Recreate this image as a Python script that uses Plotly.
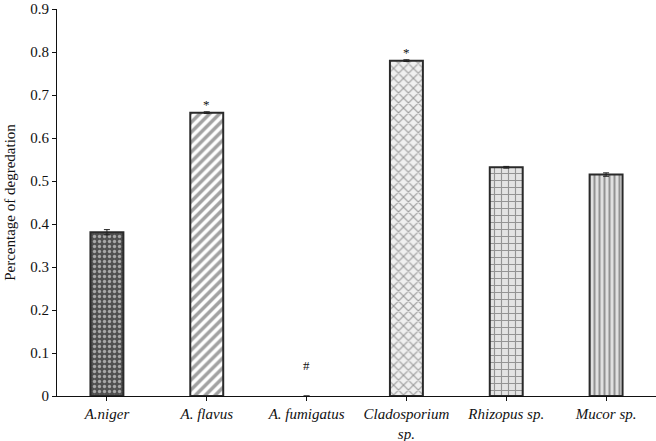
import plotly.graph_objects as go

categories = ["<i>A.niger</i>", "<i>A. flavus</i>", "<i>A. fumigatus</i>",
              "<i>Cladosporium</i><br><i>sp.</i>", "<i>Rhizopus sp.</i>", "<i>Mucor sp.</i>"]
values = [0.381, 0.659, 0.0, 0.780, 0.532, 0.515]
errors = [0.006, 0.002, None, 0.002, 0.002, 0.004]
sig_marks = ["", "*", "#", "*", "", ""]
sig_y = [None, 0.677, 0.07, 0.80, None, None]
y_ticks = [0, 0.1, 0.2, 0.3, 0.4, 0.5, 0.6, 0.7, 0.8, 0.9]
y_tick_labels = ["0", "0.1", "0.2", "0.3", "0.4", "0.5", "0.6", "0.7", "0.8", "0.9"]

shapes = [".", "/", "", "x", "+", "|"]
bgs = ["#505050", "#ffffff", "#ffffff", "#f0f0f0", "#e4e4e4", "#e0e0e0"]
fgs = ["#d8d8d8", "#000000", "#111111", "#333333", "#1a1a1a", "#333333"]
sizes = [5, 7, 8, 7, 7, 5]
solid = [0.35, 0.5, 0.3, 0.3, 0.3, 0.4]
line_w = [2, 2, 0, 2, 2, 2]
opac = [1, 1, 0, 1, 1, 1]

fig = go.Figure()
fig.add_trace(go.Bar(
    x=list(range(len(values))), y=values, width=0.33,
    marker=dict(color=bgs, opacity=opac, line=dict(color="#2a2a2a", width=line_w),
                pattern=dict(shape=shapes, bgcolor=bgs, fgcolor=fgs, size=sizes, solidity=solid)),
    error_y=dict(type="data", array=errors, visible=True, color="#222222", thickness=1, width=3),
    showlegend=False,
))

for i, (m, yy) in enumerate(zip(sig_marks, sig_y)):
    if m:
        fig.add_annotation(x=i, y=yy, text=m, showarrow=False,
                           font=dict(family="Liberation Serif", size=13, color="#111"))

fig.update_layout(
    width=656, height=441,
    margin=dict(l=57, r=0, t=9, b=45, autoexpand=False),
    paper_bgcolor="white", plot_bgcolor="white",
    font=dict(family="Liberation Serif", size=15, color="#111"),
)
fig.update_xaxes(
    tickmode="array", tickvals=list(range(len(categories))), ticktext=categories,
    range=[-0.5, 5.5], showline=True, linecolor="#111", linewidth=1.2,
    ticks="outside", ticklen=4, tickcolor="#111", showgrid=False, zeroline=False,
    tickfont=dict(size=15), automargin=False,
)
fig.update_yaxes(
    range=[0, 0.9001], tickmode="array", tickvals=y_ticks, ticktext=y_tick_labels,
    showline=True, linecolor="#111", linewidth=1.2, ticklabeloverflow="allow",
    ticks="outside", ticklen=4, tickcolor="#111", showgrid=False, zeroline=False,
    title=dict(text="Percentage of degredation", font=dict(size=15), standoff=10),
    tickfont=dict(size=15), automargin=False,
)

fig.write_html("out.html", config={"displayModeBar": False},
               post_script="document.body.style.margin='0';document.body.style.padding='0';")
